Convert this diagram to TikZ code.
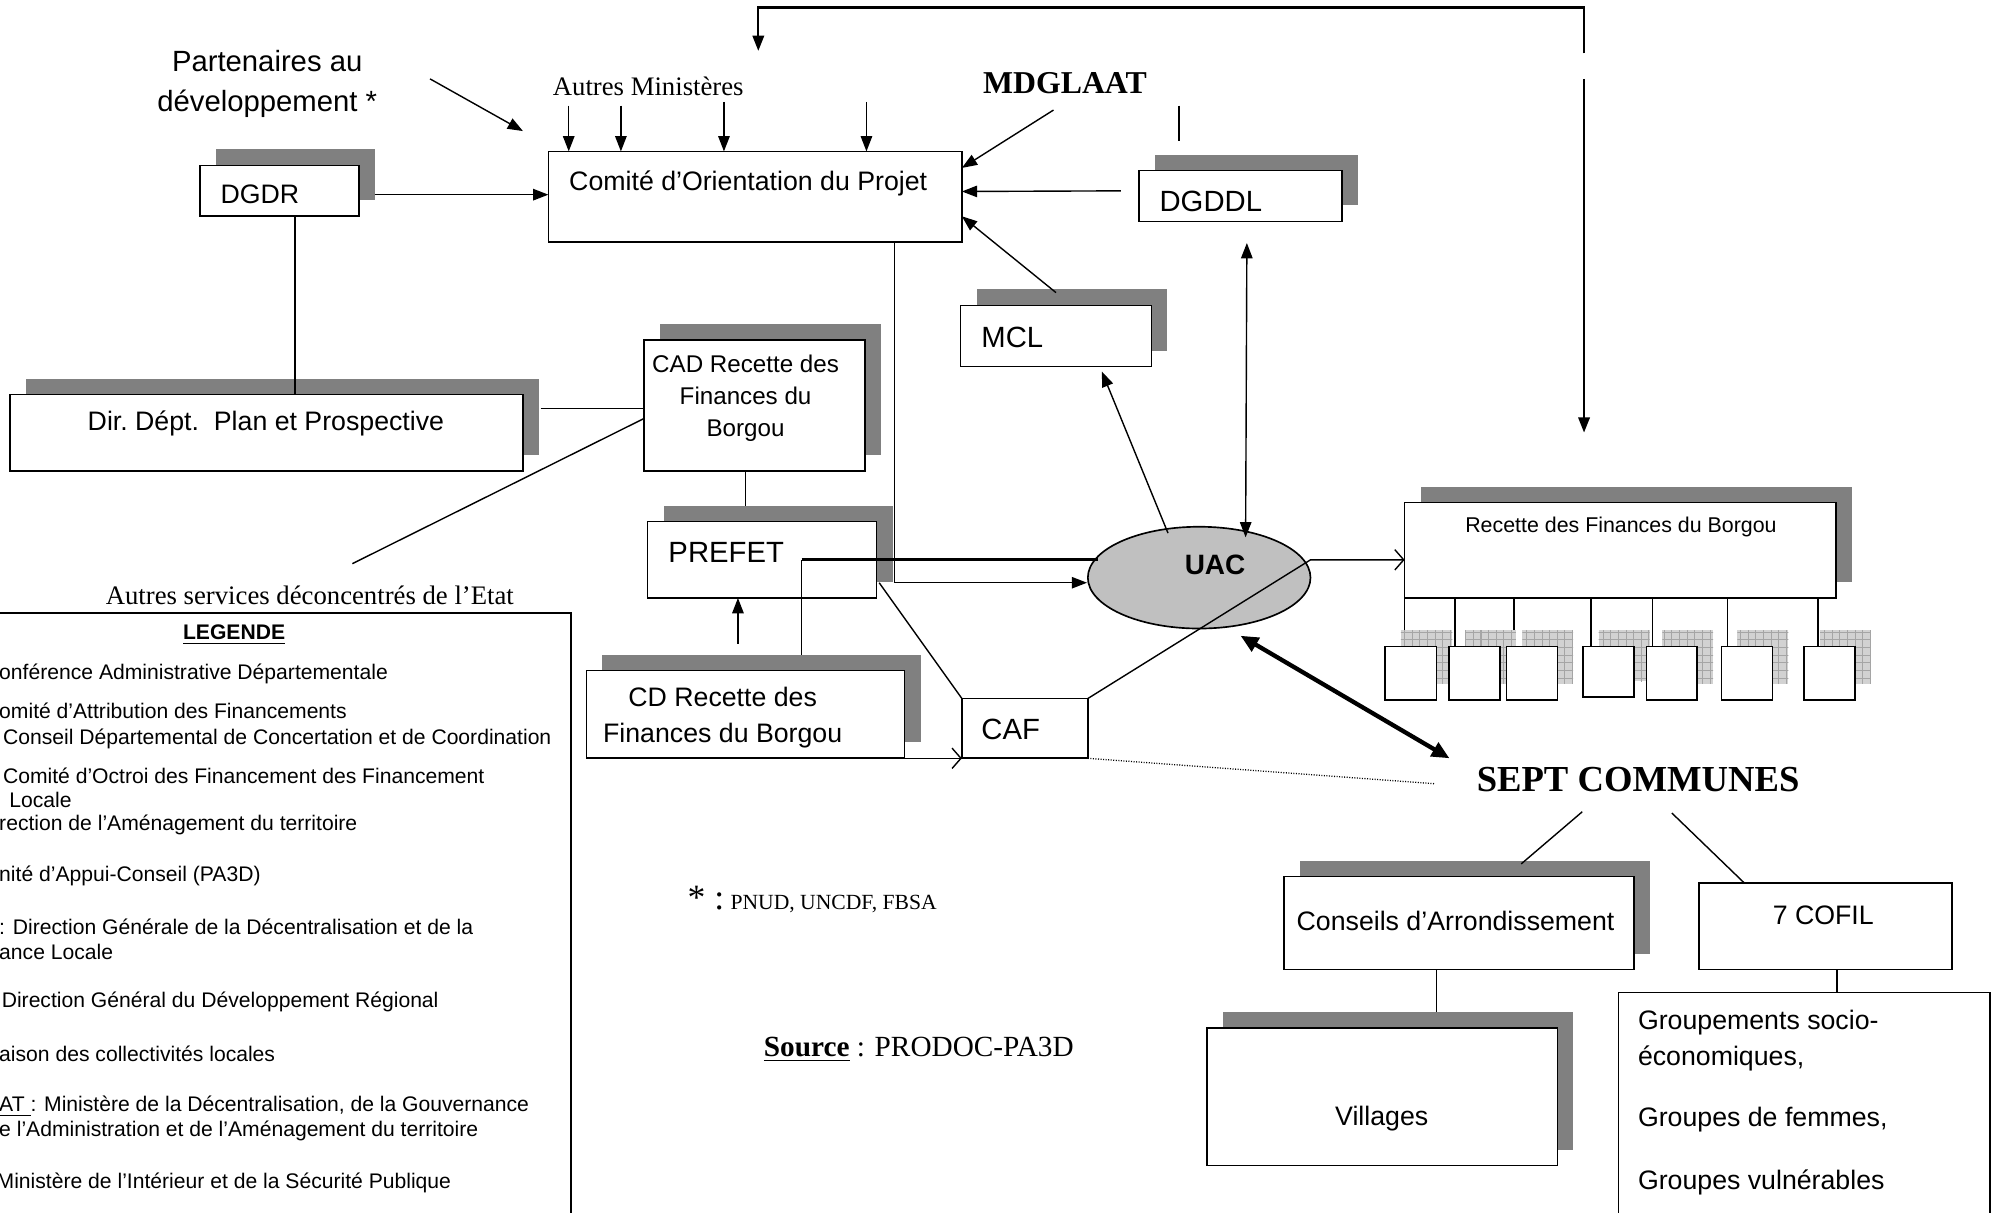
\documentclass[tikz,border=0pt]{standalone}
\usepackage{fontspec}
\setmainfont{Liberation Sans}
\newfontfamily\tms{Liberation Serif}
\usetikzlibrary{arrows.meta,shapes.geometric,shadows,patterns,fit,calc}
\definecolor{shg}{RGB}{128,128,128}
\definecolor{uacg}{RGB}{192,192,192}
\definecolor{lgr}{RGB}{210,210,210}
\definecolor{ggr}{RGB}{165,165,165}
\pgfdeclarelayer{bg}
\pgfdeclarelayer{sh}
\pgfsetlayers{bg,sh,main}
\newcommand\fsz[2]{\fontsize{#1}{#2}\selectfont}
\begin{document}
\begin{tikzpicture}[x=0.5pt,y=-0.5pt,
 box/.style={draw, fill=white, line width=0.65pt, inner sep=0pt, outer sep=0pt},
 sbox/.style={box, drop shadow={shadow xshift=6.25pt, shadow yshift=6.25pt, fill=shg, opacity=1}},
 ln/.style={line width=0.55pt},
 arr/.style={ln, -{Triangle[length=6pt,width=4.5pt]}},
 darr/.style={ln, {Triangle[length=6pt,width=4.5pt]}-{Triangle[length=6pt,width=4.5pt]}},
 oarr/.style={ln, -{Straight Barb[length=3.5pt,width=8pt]}},
 tarr/.style={line width=1.7pt, {Triangle[length=7pt,width=6pt]}-{Triangle[length=7pt,width=6pt]}},
 thk/.style={line width=1.3pt},
 dotl/.style={line width=0.5pt, dash pattern=on 0.4pt off 0.6pt},
 fbarr/.style={line width=0.9pt, -{Triangle[length=6pt,width=4.5pt]}},
 ar/.style={inner sep=0pt, yshift=-1pt, font=\fsz{10.5}{12.6}},
 arb/.style={inner sep=0pt, yshift=-1pt, font=\fsz{11.5}{14}},
 lg/.style={inner sep=0pt, yshift=-0.8pt, anchor=west, font=\fsz{8.3}{10}},
 tm/.style={inner sep=0pt, font=\tms\fsz{10.5}{12.6}},
]
\useasboundingbox (0,0) rectangle (1568,953);

% ---------- boxes ----------
\node[sbox, fit={(157,130) (282,170)}] (dgdr) {};
\node[sbox, fit={(8,310) (411,370)}] (dirdept) {};
\node[box, fit={(431,119) (756,190)}] (comite) {};
\node[sbox, fit={(506,267) (680,370)}] (cad) {};
\node[sbox, fit={(509,410) (689,470)}] (prefet) {};
\node[sbox, fit={(461,527) (711,596)}] (cdrec) {};
\node[box, fit={(756,549) (855,596)}] (caf) {};
\node[sbox, fit={(755,240) (905,288)}] (mcl) {};
\node[sbox, fit={(895,134) (1055,174)}] (dgddl) {};
\node[sbox, fit={(1104,395) (1443,470)}] (recette) {};
\node[sbox, fit={(1009,689) (1284,762)}] (conseils) {};
\node[box, fit={(1335.5,694) (1534,762)}] (cofil) {};
\node[sbox, fit={(948.6,808) (1224,916)}] (villages) {};
\node[box, fit={(1272,780) (1564,970)}] (groupes) {};
\node[box, fit={(-6,482) (449,970)}] (legende) {};
\node[ellipse, draw, fill=uacg, line width=0.65pt, minimum width=87.5pt, minimum height=40pt, inner sep=0pt] (uac) at (942.5,454) {};

\foreach \i/\a/\b/\c in {1/1088.6/1129/550, 2/1139/1179/550, 3/1184/1224/550, 4/1244/1284/548, 5/1294/1334/550, 6/1353/1393/550, 7/1418/1458/550}
  \node[box, fit={(\a,508) (\b,\c)}] (s\i) {};

\begin{pgfonlayer}{sh}
\foreach \i in {1,...,7}{
  \fill[lgr] ([shift={(12.5,-12.5)}]s\i.south west) rectangle ([shift={(12.5,-12.5)}]s\i.north east);
  \fill[pattern=grid, pattern color=ggr] ([shift={(12.5,-12.5)}]s\i.south west) rectangle ([shift={(12.5,-12.5)}]s\i.north east);
}
\end{pgfonlayer}
\begin{pgfonlayer}{bg}
\foreach \x/\i in {1104/1,1143.6/2,1190/3,1250.5/4,1299/5,1357.5/6,1429/7}
  \draw[ln] (recette.south -| \x,0) -- (s\i.north -| \x,0);
\end{pgfonlayer}

% ---------- texts ----------
\node[ar, anchor=west] (tcomite) at (447,142) {Comité d’Orientation du Projet};
\node[ar, anchor=west] (tdgdr) at (173,151) {DGDR};
\node[ar] (tdir) at (209,331) {Dir.\ Dépt.\ \ Plan et Prospective};
\node[inner sep=0pt, align=center, font=\fsz{9.5}{12.5}] (tcad) at (586,313) {CAD Recette des\\Finances du\\Borgou};
\node[arb, anchor=west] (tprefet) at (525,432) {PREFET};
\node[ar, align=center, font=\fsz{10.5}{14}] (tcd) at (568,562) {CD Recette des\\Finances du Borgou};
\node[arb, anchor=west] (tcaf) at (771,571) {CAF};
\node[arb, anchor=west] (tmcl) at (771,263) {MCL};
\node[arb, anchor=west] (tdgddl) at (911,156) {DGDDL};
\node[inner sep=0pt, font=\bfseries\fsz{11}{13}] (tuac) at (955,444) {UAC};
\node[inner sep=0pt, font=\fsz{8.4}{10}] (trec) at (1274,414) {Recette des Finances du Borgou};
\node[ar] (tcons) at (1144,722) {Conseils d’Arrondissement};
\node[ar] (tcofil) at (1433,717) {7 COFIL};
\node[ar] (tvil) at (1086,877) {Villages};
\node[ar, anchor=west] (g1) at (1287,802) {Groupements socio-};
\node[ar, anchor=west] (g2) at (1287,830) {économiques,};
\node[ar, anchor=west] (g3) at (1287,878) {Groupes de femmes,};
\node[ar, anchor=west] (g4) at (1287,927) {Groupes vulnérables};

\node[arb, align=center, font=\fsz{11.5}{15.5}] (partners) at (210,64) {Partenaires au\\développement *};
\node[tm] (autresmin) at (509.5,68) {Autres Ministères};
\node[inner sep=0pt, font=\tms\bfseries\fsz{12.5}{15}] (mdglaat) at (837,65) {MDGLAAT};
\node[tm] (autresserv) at (243.5,468) {Autres services déconcentrés de l’Etat};
\node[inner sep=0pt, font=\tms\bfseries\fsz{14.4}{17}] (sept) at (1287.5,613) {SEPT COMMUNES};
\node[inner sep=0pt, anchor=base west, font=\tms] (pnud) at (540,715) {{\fsz{14}{16}*\ :}\ {\fsz{8.5}{10}PNUD, UNCDF, FBSA}};
\node[inner sep=0pt, anchor=base west, font=\tms\fsz{11.5}{14}] (source) at (600,830.5) {\underline{\textbf{Source}} : PRODOC-PA3D};

% legend
\node[inner sep=0pt, font=\bfseries\fsz{8.3}{10}] (lgt) at (184,499) {\underline{LEGENDE}};
\node[lg] (l1) at (-1,528) {onférence Administrative Départementale};
\node[lg] (l2) at (-1,557) {omité d’Attribution des Financements};
\node[lg] (l3) at (2,579) {Conseil Départemental de Concertation et de Coordination};
\node[lg] (l4) at (2,608) {Comité d’Octroi des Financement des Financement};
\node[lg] (l5) at (7,627.5) {Locale};
\node[lg] (l6) at (-1,647) {rection de l’Aménagement du territoire};
\node[lg] (l7) at (-1,687) {nité d’Appui-Conseil (PA3D)};
\node[lg] (l8) at (-1,727) {: Direction Générale de la Décentralisation et de la};
\node[lg] (l9) at (-1,746.5) {ance Locale};
\node[lg] (l10) at (1,786) {Direction Général du Développement Régional};
\node[lg] (l11) at (-1,827) {aison des collectivités locales};
\node[lg] (l12) at (-1,868) {\underline{AT\ }: Ministère de la Décentralisation, de la Gouvernance};
\node[lg] (l13) at (-1,887) {e l’Administration et de l’Aménagement du territoire};
\node[lg] (l14) at (-3,928) {Ministère de l’Intérieur et de la Sécurité Publique};

% ---------- free-end coordinates ----------
\coordinate (p1) at (338,62);
\coordinate (p2) at (411,103);
\coordinate (m1) at (828,86.5);
\coordinate (v1) at (926.6,83);
\coordinate (v2) at (926.6,111);
\coordinate (fb1) at (1245,42);
\coordinate (fb2) at (596,40);
\coordinate (fb3) at (1245,62);
\coordinate (fb4) at (1245,340);
\coordinate (as1) at (277,443);
\coordinate (j) at (630,440);
\coordinate (k) at (1030,440);
\coordinate (d1) at (1128,616);
\coordinate (c1) at (1243.6,638);
\coordinate (c2) at (1314,639);

% ---------- connectors ----------
\draw[arr] (p1) -- (p2);
\foreach \x/\y in {447/83, 488/83, 569/80, 681/80}
  \draw[arr] (\x,\y) -- (\x,\y |- comite.north);
\draw[arr] (m1) -- ([yshift=11.25pt]comite.east);
\draw[ln] (v1) -- (v2);
\draw[arr] ([xshift=-7pt,yshift=2pt]dgddl.west) -- ([yshift=2pt]comite.east);
\draw[arr] ([yshift=5pt]mcl.north) -- ([yshift=-7.75pt]comite.east);
\draw[darr] ([xshift=2.5pt,yshift=-8.5pt]dgddl.south) -- ([xshift=18.25pt,yshift=-4.5pt]uac.north);
\draw[fbarr] (fb1) |- (596,6) -- (fb2);
\draw[fbarr] (fb3) -- (fb4);

\draw[arr] ([xshift=6.25pt,yshift=-1.5pt]dgdr.east) -- ++(136.5,0);
\draw[ln] ([xshift=6.25pt]dgdr.south) -- ++(0,140);
\draw[ln] ([xshift=7pt,yshift=9.5pt]dirdept.east) -- ([yshift=-1.25pt]cad.west);
\draw[ln] ([yshift=-5.25pt]cad.west) -- (as1);
\draw[ln] ([xshift=-3.5pt]cad.south) -- ++(0,28);

\draw[arr] ([xshift=54.75pt]comite.south) |- ([yshift=-2pt]uac.west);
\draw[ln] ([xshift=22pt,yshift=6.25pt]cdrec.north) -- (j);
\draw[thk] (j) -- ([xshift=4.5pt,yshift=7pt]uac.west);
\draw[arr] ([xshift=-3pt,yshift=10.5pt]cdrec.north) -- ([xshift=-9.5pt]prefet.south);
\draw[oarr] (cdrec.south east) -- (caf.south west);
\draw[ln] ([xshift=1pt,yshift=6pt]prefet.south east) -- (caf.north west);
\draw[oarr] (caf.north east) -- (k) -- (k -| recette.west);
\draw[dotl] (caf.south east) -- (d1);
\draw[arr] ([xshift=-12.25pt,yshift=17.5pt]uac.center) -- ([xshift=18pt,yshift=-2pt]mcl.south);
\draw[tarr] ([xshift=16.25pt,yshift=-2.5pt]uac.south) -- ([xshift=-10.5pt,yshift=8.5pt]sept.west);

\draw[ln] (c1) -- ([xshift=24.55pt,yshift=5pt]conseils.north);
\draw[ln] (c2) -- ([xshift=-31.9pt]cofil.north);
\draw[ln] ([xshift=-8.75pt]conseils.south) -- ++(0,33);
\draw[ln] ([xshift=4.6pt]cofil.south) -- ++(0,18);
\end{tikzpicture}
\end{document}
